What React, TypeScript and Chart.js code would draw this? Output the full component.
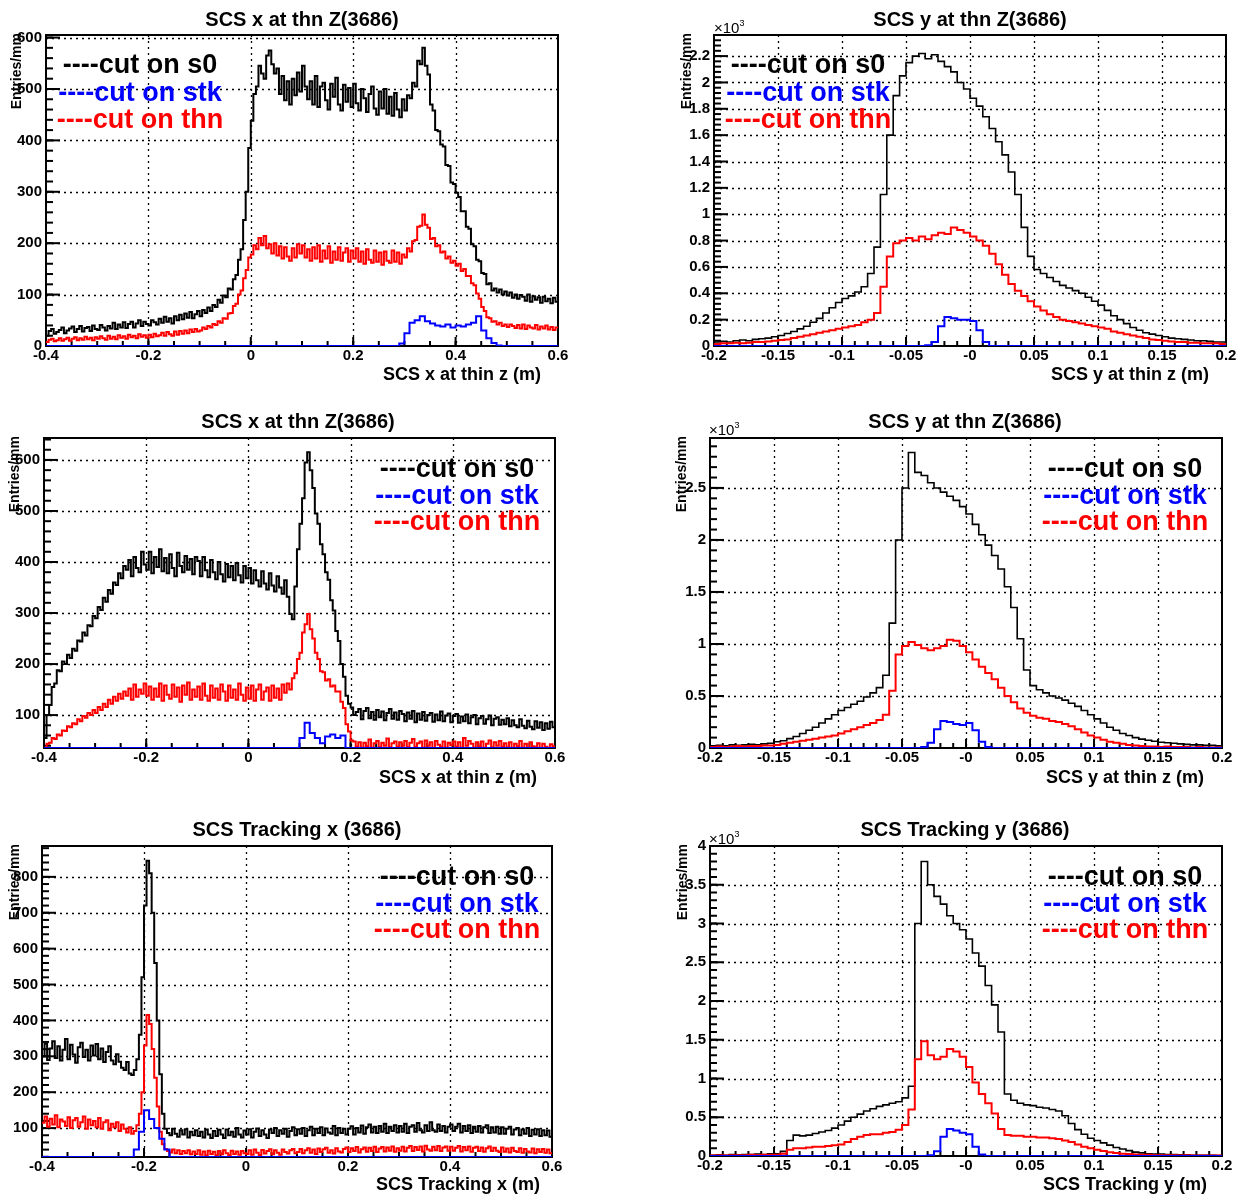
import React, { useEffect, useRef } from "react";
import { Chart, registerables } from "chart.js";

Chart.register(...registerables);

// ---------------- tick labels ----------------
const X_TICKS_WIDE = [-0.4, -0.2, 0, 0.2, 0.4, 0.6];
const X_LABELS_WIDE = ["-0.4", "-0.2", "0", "0.2", "0.4", "0.6"];
const X_TICKS_NARROW = [-0.2, -0.15, -0.1, -0.05, 0, 0.05, 0.1, 0.15, 0.2];
const X_LABELS_NARROW = ["-0.2", "-0.15", "-0.1", "-0.05", "-0", "0.05", "0.1", "0.15", "0.2"];

const Y_TICKS_P1 = [0, 100, 200, 300, 400, 500, 600];
const Y_LABELS_P1 = ["0", "100", "200", "300", "400", "500", "600"];
const Y_TICKS_P2 = [0, 0.2, 0.4, 0.6, 0.8, 1, 1.2, 1.4, 1.6, 1.8, 2, 2.2];
const Y_LABELS_P2 = ["0", "0.2", "0.4", "0.6", "0.8", "1", "1.2", "1.4", "1.6", "1.8", "2", "2.2"];
const Y_TICKS_P3 = [100, 200, 300, 400, 500, 600];
const Y_LABELS_P3 = ["100", "200", "300", "400", "500", "600"];
const Y_TICKS_P4 = [0, 0.5, 1, 1.5, 2, 2.5];
const Y_LABELS_P4 = ["0", "0.5", "1", "1.5", "2", "2.5"];
const Y_TICKS_P5 = [100, 200, 300, 400, 500, 600, 700, 800];
const Y_LABELS_P5 = ["100", "200", "300", "400", "500", "600", "700", "800"];
const Y_TICKS_P6 = [0, 0.5, 1, 1.5, 2, 2.5, 3, 3.5, 4];
const Y_LABELS_P6 = ["0", "0.5", "1", "1.5", "2", "2.5", "3", "3.5", "4"];

const LEGEND_LABELS = ["----cut on s0", "----cut on stk", "----cut on thn"];

// ---------------- data (bin contents) ----------------
// Panel 1: SCS x at thn — s0/thn: 200 bins (-0.4..0.6), stk: 100 bins
const P1_S0 = [
  20, 29, 33, 24, 27, 31, 36, 25, 30, 34, 38, 27, 33, 39, 28, 35, 37, 29, 40, 33,
  31, 41, 36, 30, 39, 34, 45, 33, 42, 36, 46, 35, 43, 47, 36, 44, 50, 39, 47, 43,
  40, 50, 46, 42, 53, 45, 57, 47, 54, 44, 58, 50, 61, 52, 63, 55, 66, 54, 62, 68,
  58, 70, 64, 75, 68, 80, 76, 90, 84, 98, 95, 112, 110, 130, 138, 168, 188, 245, 300, 385,
  438, 490, 505, 545, 530, 520, 565, 575, 548, 530, 540, 490, 525, 478, 515, 470, 520, 488, 532, 495,
  545, 505, 480, 515, 470, 525, 465, 505, 512, 478, 460, 510, 485, 522, 470, 458, 508, 475, 502, 465,
  510, 472, 458, 500, 482, 455, 490, 505, 462, 450, 495, 462, 500, 452, 485, 448, 492, 460, 445, 480,
  458, 488, 482, 512, 505, 555, 548, 580, 545, 528, 470, 458, 420, 418, 392, 388, 352, 350, 318, 315,
  298, 290, 262, 262, 232, 228, 198, 194, 168, 165, 142, 140, 120, 122, 108, 112, 104, 110, 100, 106,
  98, 104, 94, 100, 92, 99, 96, 88, 100, 86, 97, 90, 95, 84, 96, 87, 92, 83, 94, 86,
];
const P1_STK = [
  0, 0, 0, 0, 0, 0, 0, 0, 0, 0,
  0, 0, 0, 0, 0, 0, 0, 0, 0, 0,
  0, 0, 0, 0, 0, 0, 0, 0, 0, 0,
  0, 0, 0, 0, 0, 0, 0, 0, 0, 0,
  0, 0, 0, 0, 0, 0, 0, 0, 0, 0,
  0, 0, 0, 0, 0, 0, 0, 0, 0, 0,
  0, 0, 0, 0, 0, 0, 0, 0, 0, 5,
  25, 45, 50, 58, 48, 44, 40, 38, 42, 36,
  40, 38, 42, 45, 58, 30, 15, 6, 1, 0,
  0, 0, 0, 0, 0, 0, 0, 0, 0, 0,
];
const P1_THN = [
  8, 12, 14, 9, 11, 15, 10, 13, 16, 10, 14, 17, 11, 15, 12, 18, 13, 16, 11, 17,
  14, 19, 15, 12, 20, 14, 18, 13, 21, 16, 19, 14, 22, 17, 20, 15, 23, 18, 21, 16,
  22, 17, 24, 19, 21, 26, 20, 27, 23, 20, 28, 22, 29, 24, 30, 25, 32, 27, 33, 28,
  30, 36, 33, 39, 36, 43, 41, 48, 45, 54, 53, 63, 64, 78, 82, 100, 108, 132, 148, 172,
  178, 196, 188, 210, 196, 214, 190, 198, 180, 200, 176, 194, 170, 192, 174, 166, 190, 172, 198, 180,
  196, 172, 188, 166, 192, 170, 196, 164, 186, 170, 194, 162, 184, 168, 192, 166, 182, 190, 164, 186,
  170, 190, 164, 184, 160, 188, 168, 162, 186, 164, 182, 158, 184, 166, 162, 186, 164, 182, 160, 178,
  172, 190, 184, 204, 206, 232, 234, 256, 236, 230, 208, 210, 194, 196, 182, 184, 170, 174, 162, 166,
  156, 160, 146, 150, 136, 136, 122, 118, 102, 92, 76, 68, 56, 54, 47, 48, 42, 45, 39, 42,
  37, 42, 39, 35, 41, 34, 42, 33, 40, 36, 34, 41, 32, 38, 34, 40, 32, 37, 31, 36,
];

// Panel 2: SCS y at thn (x10^3), 80 bins from -0.2 to 0.2
const P2_S0 = [
  0.03, 0.035, 0.03, 0.04, 0.045, 0.04, 0.05, 0.055, 0.06, 0.07,
  0.08, 0.095, 0.11, 0.13, 0.15, 0.18, 0.21, 0.25, 0.29, 0.33,
  0.36, 0.38, 0.41, 0.45, 0.55, 0.75, 1.15, 1.6, 1.9, 2.05,
  2.15, 2.2, 2.22, 2.18, 2.21, 2.16, 2.12, 2.08, 2.0, 1.95,
  1.88, 1.82, 1.74, 1.65, 1.55, 1.45, 1.32, 1.15, 0.9, 0.68,
  0.58, 0.55, 0.52, 0.49, 0.46, 0.44, 0.42, 0.4, 0.37, 0.34,
  0.31, 0.27, 0.23, 0.2, 0.17, 0.14, 0.12, 0.1, 0.09, 0.08,
  0.07, 0.06, 0.055, 0.05, 0.045, 0.04, 0.04, 0.035, 0.03, 0.03,
];
const P2_STK = [
  0, 0, 0, 0, 0, 0, 0, 0, 0, 0,
  0, 0, 0, 0, 0, 0, 0, 0, 0, 0,
  0, 0, 0, 0, 0, 0, 0, 0, 0, 0,
  0, 0, 0, 0.005, 0.03, 0.15, 0.22, 0.21, 0.2, 0.2,
  0.19, 0.12, 0.03, 0, 0, 0, 0, 0, 0, 0,
  0, 0, 0, 0, 0, 0, 0, 0, 0, 0,
  0, 0, 0, 0, 0, 0, 0, 0, 0, 0,
  0, 0, 0, 0, 0, 0, 0, 0, 0, 0,
];
const P2_THN = [
  0.015, 0.02, 0.02, 0.025, 0.02, 0.025, 0.03, 0.03, 0.035, 0.04,
  0.045, 0.05, 0.06, 0.07, 0.08, 0.09, 0.1, 0.11, 0.12, 0.13,
  0.14, 0.15, 0.16, 0.18, 0.2, 0.25, 0.45, 0.68, 0.78, 0.8,
  0.82, 0.8, 0.83, 0.81, 0.84, 0.86, 0.85, 0.9, 0.88, 0.86,
  0.83, 0.8, 0.76, 0.7, 0.62, 0.54, 0.47, 0.42, 0.38, 0.34,
  0.3, 0.27, 0.24, 0.22, 0.2, 0.19, 0.18, 0.17, 0.16, 0.15,
  0.14, 0.13, 0.11, 0.1, 0.09, 0.08, 0.07, 0.06, 0.05, 0.045,
  0.04, 0.035, 0.03, 0.03, 0.025, 0.025, 0.02, 0.02, 0.02, 0.015,
];

// Panel 3: SCS x at thn — s0/thn: 200 bins (-0.4..0.6), stk: 100 bins
const P3_S0 = [
  55, 100, 120, 155, 162, 188, 186, 205, 200, 218, 212, 230, 226, 246, 244, 262, 256, 276, 274, 294,
  290, 312, 306, 330, 322, 345, 338, 360, 355, 378, 368, 392, 385, 404, 372, 410, 388, 380, 420, 395,
  385, 420, 378, 410, 390, 425, 382, 408, 378, 415, 388, 372, 418, 392, 380, 412, 385, 406, 376, 410,
  402, 372, 410, 384, 370, 404, 380, 366, 400, 376, 362, 396, 370, 392, 364, 398, 374, 360, 392, 368,
  388, 358, 384, 364, 352, 382, 358, 346, 378, 354, 342, 372, 350, 338, 364, 332, 298, 288, 352, 425,
  475, 525, 595, 615, 580, 545, 495, 475, 435, 415, 380, 365, 325, 305, 265, 245, 200, 175, 138, 122,
  115, 100, 106, 112, 92, 108, 114, 94, 106, 91, 110, 96, 107, 90, 104, 112, 93, 105, 91, 108,
  102, 88, 105, 93, 108, 86, 103, 91, 106, 89, 100, 104, 87, 101, 90, 107, 88, 99, 103, 86,
  98, 102, 85, 97, 88, 101, 84, 96, 100, 82, 94, 98, 83, 92, 99, 80, 93, 96, 81, 91,
  82, 94, 78, 90, 80, 76, 92, 79, 74, 89, 77, 72, 88, 75, 86, 71, 84, 73, 87, 76,
];
const P3_STK = [
  0, 0, 0, 0, 0, 0, 0, 0, 0, 0,
  0, 0, 0, 0, 0, 0, 0, 0, 0, 0,
  0, 0, 0, 0, 0, 0, 0, 0, 0, 0,
  0, 0, 0, 0, 0, 0, 0, 0, 0, 0,
  0, 0, 0, 0, 0, 0, 0, 0, 0, 0,
  55, 85, 65, 55, 45, 58, 62, 55, 60, 20,
  0, 0, 0, 0, 0, 0, 0, 0, 0, 0,
  0, 0, 0, 0, 0, 0, 0, 0, 0, 0,
  0, 0, 0, 0, 0, 0, 0, 0, 0, 0,
  0, 0, 0, 0, 0, 0, 0, 0, 0, 0,
];
const P3_THN = [
  36, 44, 46, 55, 53, 62, 60, 70, 69, 78, 76, 84, 82, 92, 88, 98, 95, 104, 100, 110,
  104, 116, 110, 122, 116, 130, 122, 136, 128, 142, 132, 146, 138, 152, 130, 160, 136, 150, 142, 162,
  138, 156, 130, 152, 136, 162, 128, 158, 140, 132, 160, 136, 154, 126, 158, 140, 164, 130, 150, 136,
  156, 130, 162, 138, 128, 158, 134, 152, 130, 160, 146, 128, 158, 134, 150, 130, 162, 140, 128, 154,
  132, 158, 128, 150, 160, 130, 146, 154, 128, 158, 134, 152, 130, 160, 144, 162, 150, 172, 182, 210,
  222, 262, 278, 298, 268, 250, 222, 210, 186, 184, 168, 170, 156, 158, 146, 146, 126, 114, 82, 68,
  50, 48, 38, 47, 36, 46, 39, 52, 36, 45, 49, 37, 46, 40, 54, 37, 45, 48, 38, 47,
  40, 49, 37, 46, 53, 38, 45, 48, 36, 50, 40, 47, 35, 49, 42, 38, 48, 36, 46, 41,
  48, 38, 47, 36, 55, 40, 49, 44, 36, 47, 39, 48, 35, 44, 50, 37, 47, 40, 49, 38,
  45, 37, 47, 35, 44, 39, 49, 36, 44, 34, 47, 39, 37, 45, 35, 44, 38, 34, 43, 39,
];

// Panel 4: SCS y at thn (x10^3), 80 bins from -0.2 to 0.2
const P4_S0 = [
  0.02, 0.025, 0.02, 0.03, 0.025, 0.03, 0.035, 0.03, 0.04, 0.045,
  0.06, 0.07, 0.09, 0.11, 0.14, 0.17, 0.2, 0.24, 0.28, 0.32,
  0.36, 0.39, 0.42, 0.45, 0.49, 0.53, 0.58, 0.7, 1.2, 2.0,
  2.5, 2.84, 2.65, 2.62, 2.55, 2.5, 2.46, 2.42, 2.38, 2.32,
  2.25, 2.15, 2.05, 1.95, 1.85, 1.72, 1.55, 1.35, 1.05, 0.75,
  0.6, 0.56, 0.53, 0.5, 0.48, 0.46, 0.43, 0.4, 0.36, 0.32,
  0.28, 0.24, 0.2, 0.17, 0.14, 0.12, 0.1, 0.085, 0.075, 0.065,
  0.055, 0.05, 0.045, 0.04, 0.035, 0.03, 0.03, 0.025, 0.025, 0.02,
];
const P4_STK = [
  0, 0, 0, 0, 0, 0, 0, 0, 0, 0,
  0, 0, 0, 0, 0, 0, 0, 0, 0, 0,
  0, 0, 0, 0, 0, 0, 0, 0, 0, 0,
  0, 0, 0, 0.01, 0.05, 0.18, 0.26, 0.25, 0.23, 0.22,
  0.24, 0.17, 0.06, 0.01, 0, 0, 0, 0, 0, 0,
  0, 0, 0, 0, 0, 0, 0, 0, 0, 0,
  0, 0, 0, 0, 0, 0, 0, 0, 0, 0,
  0, 0, 0, 0, 0, 0, 0, 0, 0, 0,
];
const P4_THN = [
  0.01, 0.015, 0.01, 0.015, 0.02, 0.015, 0.02, 0.02, 0.025, 0.025,
  0.03, 0.04, 0.05, 0.06, 0.07, 0.08, 0.09, 0.1, 0.11, 0.12,
  0.14, 0.16, 0.18, 0.2, 0.22, 0.24, 0.27, 0.32, 0.55, 0.9,
  0.98, 1.02, 0.99, 0.96, 0.94, 0.96, 0.98, 1.04, 1.03, 0.98,
  0.92, 0.85, 0.78, 0.72, 0.66, 0.58, 0.5, 0.44, 0.38, 0.34,
  0.31, 0.29, 0.28, 0.26, 0.25, 0.23, 0.21, 0.18, 0.15, 0.12,
  0.1, 0.08, 0.06, 0.05, 0.04, 0.03, 0.025, 0.02, 0.015, 0.015,
  0.01, 0.015, 0.01, 0.01, 0.01, 0.005, 0.01, 0.005, 0.005, 0.005,
];

// Panel 5: SCS Tracking x — s0/thn: 200 bins (-0.4..0.6), stk: 100 bins
const P5_S0 = [
  300, 335, 290, 322, 342, 295, 328, 288, 318, 348, 292, 332, 305, 282, 325, 338, 298, 318, 288, 330,
  302, 334, 292, 322, 284, 312, 328, 288, 278, 306, 285, 268, 262, 284, 252, 248, 262, 292, 360, 520,
  720, 845, 810, 700, 560, 400, 250, 140, 98, 86, 80, 98, 84, 76, 94, 82, 97, 74, 90, 80,
  94, 78, 90, 74, 96, 82, 72, 92, 78, 95, 82, 72, 96, 80, 90, 76, 100, 82, 74, 93,
  82, 97, 74, 90, 99, 78, 94, 82, 72, 96, 86, 100, 78, 94, 84, 98, 76, 92, 102, 80,
  97, 84, 100, 78, 94, 104, 80, 98, 86, 102, 80, 99, 88, 84, 106, 80, 100, 86, 98, 82,
  98, 105, 82, 100, 88, 107, 84, 102, 110, 88, 104, 86, 106, 90, 112, 86, 104, 92, 108, 88,
  106, 90, 112, 86, 104, 108, 90, 114, 94, 88, 108, 92, 116, 94, 90, 110, 92, 106, 88, 104,
  110, 92, 104, 112, 88, 106, 92, 108, 86, 104, 90, 106, 88, 102, 108, 86, 102, 88, 104, 84,
  102, 84, 98, 104, 82, 96, 100, 80, 96, 84, 100, 78, 95, 82, 97, 78, 94, 80, 93, 76,
];
const P5_STK = [
  0, 0, 0, 0, 0, 0, 0, 0, 0, 0,
  0, 0, 0, 0, 0, 0, 0, 0, 40, 90,
  150, 125, 100, 70, 40, 0, 0, 0, 0, 0,
  0, 0, 0, 0, 0, 0, 0, 0, 0, 0,
  0, 0, 0, 0, 0, 0, 0, 0, 0, 0,
  0, 0, 0, 0, 0, 0, 0, 0, 0, 0,
  0, 0, 0, 0, 0, 0, 0, 0, 0, 0,
  0, 0, 0, 0, 0, 0, 0, 0, 0, 0,
  0, 0, 0, 0, 0, 0, 0, 0, 0, 0,
  0, 0, 0, 0, 0, 0, 0, 0, 0, 0,
];
const P5_THN = [
  115, 132, 104, 126, 110, 136, 102, 124, 118, 106, 130, 100, 122, 128, 104, 116, 132, 98, 124, 108,
  120, 102, 128, 98, 116, 122, 94, 112, 102, 116, 92, 110, 98, 88, 102, 84, 92, 108, 140, 200,
  330, 415, 390, 320, 240, 160, 90, 55, 42, 36, 32, 40, 30, 38, 28, 36, 30, 38, 27, 35,
  28, 38, 26, 35, 24, 37, 28, 34, 24, 36, 27, 38, 30, 25, 37, 28, 35, 26, 36, 30,
  28, 38, 26, 40, 31, 25, 39, 29, 36, 41, 27, 38, 31, 26, 40, 33, 29, 38, 42, 30,
  33, 42, 30, 38, 44, 31, 40, 28, 43, 33, 41, 45, 31, 38, 29, 44, 35, 32, 42, 46,
  33, 44, 36, 47, 32, 41, 46, 34, 45, 36, 48, 33, 43, 47, 35, 46, 37, 49, 34, 44,
  37, 48, 35, 45, 50, 36, 47, 39, 49, 35, 51, 40, 37, 48, 38, 50, 36, 46, 49, 37,
  48, 37, 45, 50, 35, 47, 38, 49, 34, 45, 48, 36, 46, 34, 44, 49, 36, 45, 37, 33,
  46, 34, 43, 32, 45, 36, 33, 44, 31, 42, 35, 32, 43, 30, 41, 33, 42, 31, 40, 30,
];

// Panel 6: SCS Tracking y (x10^3), 80 bins from -0.2 to 0.2
const P6_S0 = [
  0.01, 0.015, 0.01, 0.02, 0.015, 0.02, 0.02, 0.025, 0.02, 0.03,
  0.03, 0.06, 0.2, 0.27, 0.26, 0.27, 0.29, 0.31, 0.33, 0.36,
  0.4, 0.45, 0.5, 0.54, 0.58, 0.61, 0.64, 0.66, 0.68, 0.7,
  0.75, 0.9, 3.0, 3.8, 3.5, 3.35, 3.25, 3.1, 3.0, 2.92,
  2.8, 2.62, 2.45, 2.2, 1.95, 1.6, 0.8, 0.72, 0.68, 0.66,
  0.65, 0.63, 0.62, 0.6, 0.58, 0.52, 0.42, 0.34, 0.28, 0.23,
  0.2, 0.17, 0.14, 0.11, 0.09, 0.07, 0.05, 0.04, 0.03, 0.025,
  0.025, 0.02, 0.02, 0.015, 0.015, 0.01, 0.01, 0.01, 0.01, 0.005,
];
const P6_STK = [
  0, 0, 0, 0, 0, 0, 0, 0, 0, 0,
  0, 0, 0, 0, 0, 0, 0, 0, 0, 0,
  0, 0, 0, 0, 0, 0, 0, 0, 0, 0,
  0, 0, 0, 0, 0.01, 0.06, 0.25, 0.35, 0.33, 0.3,
  0.28, 0.12, 0.02, 0, 0, 0, 0, 0, 0, 0,
  0, 0, 0, 0, 0, 0, 0, 0, 0, 0,
  0, 0, 0, 0, 0, 0, 0, 0, 0, 0,
  0, 0, 0, 0, 0, 0, 0, 0, 0, 0,
];
const P6_THN = [
  0.005, 0.01, 0.005, 0.01, 0.01, 0.01, 0.015, 0.01, 0.015, 0.015,
  0.015, 0.03, 0.08, 0.1, 0.1, 0.11, 0.12, 0.12, 0.13, 0.14,
  0.15, 0.18, 0.22, 0.25, 0.27, 0.28, 0.28, 0.3, 0.31, 0.34,
  0.4, 0.6, 1.25, 1.48, 1.3, 1.25, 1.28, 1.38, 1.35, 1.28,
  1.15, 0.95, 0.8, 0.68, 0.55, 0.35, 0.27, 0.26, 0.26, 0.25,
  0.25, 0.24, 0.24, 0.23, 0.22, 0.2, 0.18, 0.15, 0.12, 0.1,
  0.08, 0.065, 0.05, 0.04, 0.03, 0.025, 0.02, 0.015, 0.015, 0.01,
  0.01, 0.01, 0.01, 0.005, 0.01, 0.005, 0.005, 0.005, 0.005, 0.005,
];

// ---------------- layout table ----------------
const FONT = "'Liberation Sans', Arial, Helvetica, sans-serif";
const Y_AXIS_W = 50;
const X_AXIS_H = 30;
const PAD_TOP = 12;
const PAD_RIGHT = 20;

type PanelCfg = {
  frame: [number, number, number, number];
  xMin: number; xMax: number; binW: number; stkBinW: number;
  yMin: number; yMax: number;
  xTicks: number[]; xLabels: string[]; xMinor: number;
  yTicks: number[]; yLabels: string[]; yMinor: number;
  s0: number[]; stk: number[]; thn: number[];
  widths: number[];
  title: string; titleX: number; titleY: number;
  xTitle: string; xTitleRight: number; xTitleY: number;
  yTitleX: number; yTitleTop: number;
  legendX: number; legendY: number[];
  exp: [number, number] | null;
};

const PANELS: PanelCfg[] = [
  {
    frame: [46, 34, 512, 312], xMin: -0.4, xMax: 0.6, binW: 0.005, stkBinW: 0.01, yMin: 0, yMax: 605,
    xTicks: X_TICKS_WIDE, xLabels: X_LABELS_WIDE, xMinor: 0.05,
    yTicks: Y_TICKS_P1, yLabels: Y_LABELS_P1, yMinor: 20,
    s0: P1_S0, stk: P1_STK, thn: P1_THN, widths: [2, 2, 2],
    title: "SCS x at thn Z(3686)", titleX: 302, titleY: 19,
    xTitle: "SCS x at thin z (m)", xTitleRight: 541, xTitleY: 374,
    yTitleX: 16, yTitleTop: 33, legendX: 140, legendY: [64, 92, 119], exp: null,
  },
  {
    frame: [714, 34, 512, 312], xMin: -0.2, xMax: 0.2, binW: 0.005, stkBinW: 0.005, yMin: 0, yMax: 2.36,
    xTicks: X_TICKS_NARROW, xLabels: X_LABELS_NARROW, xMinor: 0.01,
    yTicks: Y_TICKS_P2, yLabels: Y_LABELS_P2, yMinor: 0.04,
    s0: P2_S0, stk: P2_STK, thn: P2_THN, widths: [1.6, 2, 2],
    title: "SCS y at thn Z(3686)", titleX: 970, titleY: 19,
    xTitle: "SCS y at thin z (m)", xTitleRight: 1209, xTitleY: 374,
    yTitleX: 686, yTitleTop: 33, legendX: 808, legendY: [64, 92, 119], exp: [714, 27],
  },
  {
    frame: [44, 437, 511, 311], xMin: -0.4, xMax: 0.6, binW: 0.005, stkBinW: 0.01, yMin: 35.5, yMax: 643,
    xTicks: X_TICKS_WIDE, xLabels: X_LABELS_WIDE, xMinor: 0.05,
    yTicks: Y_TICKS_P3, yLabels: Y_LABELS_P3, yMinor: 20,
    s0: P3_S0, stk: P3_STK, thn: P3_THN, widths: [2, 2, 2],
    title: "SCS x at thn Z(3686)", titleX: 298, titleY: 421,
    xTitle: "SCS x at thin z (m)", xTitleRight: 537, xTitleY: 777,
    yTitleX: 14, yTitleTop: 436, legendX: 457, legendY: [468, 495, 521], exp: null,
  },
  {
    frame: [710, 437, 512, 311], xMin: -0.2, xMax: 0.2, binW: 0.005, stkBinW: 0.005, yMin: 0, yMax: 2.98,
    xTicks: X_TICKS_NARROW, xLabels: X_LABELS_NARROW, xMinor: 0.01,
    yTicks: Y_TICKS_P4, yLabels: Y_LABELS_P4, yMinor: 0.1,
    s0: P4_S0, stk: P4_STK, thn: P4_THN, widths: [1.6, 2, 2],
    title: "SCS y at thn Z(3686)", titleX: 965, titleY: 421,
    xTitle: "SCS y at thin z (m)", xTitleRight: 1204, xTitleY: 777,
    yTitleX: 681, yTitleTop: 436, legendX: 1125, legendY: [468, 495, 521], exp: [709, 429],
  },
  {
    frame: [42, 845, 510, 312], xMin: -0.4, xMax: 0.6, binW: 0.005, stkBinW: 0.01, yMin: 19.4, yMax: 886,
    xTicks: X_TICKS_WIDE, xLabels: X_LABELS_WIDE, xMinor: 0.05,
    yTicks: Y_TICKS_P5, yLabels: Y_LABELS_P5, yMinor: 20,
    s0: P5_S0, stk: P5_STK, thn: P5_THN, widths: [2, 2, 2],
    title: "SCS Tracking x (3686)", titleX: 297, titleY: 829,
    xTitle: "SCS Tracking x (m)", xTitleRight: 540, xTitleY: 1184,
    yTitleX: 14, yTitleTop: 844, legendX: 457, legendY: [876, 903, 929], exp: null,
  },
  {
    frame: [710, 845, 512, 311], xMin: -0.2, xMax: 0.2, binW: 0.005, stkBinW: 0.005, yMin: 0, yMax: 4,
    xTicks: X_TICKS_NARROW, xLabels: X_LABELS_NARROW, xMinor: 0.01,
    yTicks: Y_TICKS_P6, yLabels: Y_LABELS_P6, yMinor: 0.1,
    s0: P6_S0, stk: P6_STK, thn: P6_THN, widths: [1.6, 2, 2],
    title: "SCS Tracking y (3686)", titleX: 965, titleY: 829,
    xTitle: "SCS Tracking y (m)", xTitleRight: 1207, xTitleY: 1184,
    yTitleX: 682, yTitleTop: 844, legendX: 1125, legendY: [876, 903, 929], exp: [709, 838],
  },
];

const SERIES_COLORS = ["#000000", "#0000ff", "#ff0000"];

function minorRange(min: number, max: number, step: number): number[] {
  const out: number[] = [];
  const start = Math.ceil(min / step - 1e-9);
  for (let i = start; i * step <= max + 1e-9; i++) out.push(i * step);
  return out;
}

// points at bin low edges (+ closing point at the upper edge of the last bin)
function histPoints(values: number[], xMin: number, binW: number) {
  const pts = values.map((v, i) => ({ x: xMin + i * binW, y: v }));
  pts.push({ x: xMin + values.length * binW, y: values[values.length - 1] });
  return pts;
}

function makeFramePlugin(cfg: PanelCfg) {
  return {
    id: "rootFrame",
    afterDatasetsUpdate(chart: any) {
      // ROOT draws bins below the axis minimum on the frame bottom
      const a = chart.chartArea;
      chart.data.datasets.forEach((_: any, i: number) => {
        const meta = chart.getDatasetMeta(i);
        for (const p of meta.data as any[]) {
          if (p.y > a.bottom) p.y = a.bottom;
        }
      });
    },
    beforeDatasetsDraw(chart: any) {
      const { ctx, chartArea: a } = chart;
      const xs = chart.scales.x;
      const ys = chart.scales.y;
      ctx.save();
      ctx.strokeStyle = "#000";
      ctx.lineWidth = 1.3;
      ctx.setLineDash([2, 4]);
      for (const v of cfg.xTicks) {
        const px = Math.round(xs.getPixelForValue(v)) + 0.5;
        if (px <= a.left + 2 || px >= a.right - 2) continue;
        ctx.beginPath();
        ctx.moveTo(px, a.top);
        ctx.lineTo(px, a.bottom);
        ctx.stroke();
      }
      for (const v of cfg.yTicks) {
        const py = Math.round(ys.getPixelForValue(v)) + 0.5;
        if (py <= a.top + 2 || py >= a.bottom - 2) continue;
        ctx.beginPath();
        ctx.moveTo(a.left, py);
        ctx.lineTo(a.right, py);
        ctx.stroke();
      }
      ctx.setLineDash([]);
      ctx.lineWidth = 2;
      ctx.strokeRect(a.left, a.top, a.right - a.left, a.bottom - a.top);
      const drawY = (vals: number[], len: number) => {
        for (const v of vals) {
          if (v < ys.min - 1e-9 || v > ys.max + 1e-9) continue;
          const py = ys.getPixelForValue(v);
          ctx.beginPath();
          ctx.moveTo(a.left, py);
          ctx.lineTo(a.left + len, py);
          ctx.stroke();
        }
      };
      const drawX = (vals: number[], len: number) => {
        for (const v of vals) {
          if (v < xs.min - 1e-9 || v > xs.max + 1e-9) continue;
          const px = xs.getPixelForValue(v);
          ctx.beginPath();
          ctx.moveTo(px, a.bottom);
          ctx.lineTo(px, a.bottom - len);
          ctx.stroke();
        }
      };
      drawY(minorRange(cfg.yMin, cfg.yMax, cfg.yMinor), 7);
      drawY(cfg.yTicks, 14);
      drawX(minorRange(cfg.xMin, cfg.xMax, cfg.xMinor), 5);
      drawX(cfg.xTicks, 9);
      ctx.restore();
    },
  };
}

function Panel({ cfg }: { cfg: PanelCfg }) {
  const ref = useRef<HTMLCanvasElement>(null);
  const [fl, ft, fw, fh] = cfg.frame;
  const W = fw + Y_AXIS_W + PAD_RIGHT;
  const H = fh + PAD_TOP + X_AXIS_H;

  useEffect(() => {
    const tickFont = { family: FONT, size: 15, weight: "bold" as const };
    const series = [cfg.s0, cfg.stk, cfg.thn];
    const binWs = [cfg.binW, cfg.stkBinW, cfg.binW];
    const orders = [2, 0, 1];
    const chart = new Chart(ref.current!, {
      type: "line",
      data: {
        datasets: series.map((vals, i) => ({
          data: histPoints(vals, cfg.xMin, binWs[i]),
          borderColor: SERIES_COLORS[i],
          backgroundColor: SERIES_COLORS[i],
          borderWidth: cfg.widths[i],
          pointRadius: 0,
          stepped: "before" as const,
          fill: false,
          tension: 0,
          order: orders[i],
        })),
      },
      options: {
        responsive: false,
        animation: false,
        devicePixelRatio: 1,
        events: [],
        layout: { padding: { left: 0, top: PAD_TOP, right: PAD_RIGHT, bottom: 0 } },
        plugins: { legend: { display: false }, tooltip: { enabled: false }, title: { display: false } },
        scales: {
          x: {
            type: "linear",
            min: cfg.xMin,
            max: cfg.xMax,
            grid: { display: false, drawTicks: false },
            border: { display: false },
            afterBuildTicks: (s: any) => {
              s.ticks = cfg.xTicks.map((v) => ({ value: v }));
            },
            afterFit: (s: any) => {
              s.height = X_AXIS_H;
            },
            ticks: {
              autoSkip: false,
              maxRotation: 0,
              minRotation: 0,
              padding: 1,
              color: "#000",
              font: tickFont,
              callback: (_v: any, i: number) => cfg.xLabels[i],
            },
          },
          y: {
            type: "linear",
            min: cfg.yMin,
            max: cfg.yMax,
            grid: { display: false, drawTicks: false },
            border: { display: false },
            afterBuildTicks: (s: any) => {
              s.ticks = cfg.yTicks.map((v) => ({ value: v }));
            },
            afterFit: (s: any) => {
              s.width = Y_AXIS_W;
            },
            ticks: {
              autoSkip: false,
              padding: 4,
              color: "#000",
              font: tickFont,
              callback: (_v: any, i: number) => cfg.yLabels[i],
            },
          },
        },
      },
      plugins: [makeFramePlugin(cfg)],
    } as any);
    return () => chart.destroy();
  }, []);

  return (
    <canvas
      ref={ref}
      width={W}
      height={H}
      style={{ position: "absolute", left: fl - Y_AXIS_W, top: ft - PAD_TOP, width: W, height: H }}
    />
  );
}

function Txt(props: { x: number; y: number; size: number; color?: string; align?: string; weight?: string; children: any }) {
  const { x, y, size, color = "#000", align = "center", weight = "bold", children } = props;
  const tx = align === "center" ? "-50%" : align === "right" ? "-100%" : "0";
  return (
    <div
      style={{
        position: "absolute",
        left: x,
        top: y,
        transform: `translate(${tx}, -50%)`,
        font: `${weight} ${size}px ${FONT}`,
        color,
        whiteSpace: "pre",
        lineHeight: 1,
      }}
    >
      {children}
    </div>
  );
}

function PanelTexts({ cfg }: { cfg: PanelCfg }) {
  return (
    <>
      <Txt x={cfg.titleX} y={cfg.titleY} size={20}>{cfg.title}</Txt>
      <Txt x={cfg.xTitleRight} y={cfg.xTitleY} size={18} align="right">{cfg.xTitle}</Txt>
      <div
        style={{
          position: "absolute",
          left: cfg.yTitleX - 7,
          top: cfg.yTitleTop,
          writingMode: "vertical-rl",
          transform: "rotate(180deg)",
          font: `bold 14px ${FONT}`,
          lineHeight: "14px",
          whiteSpace: "nowrap",
        }}
      >
        Entries/mm
      </div>
      {cfg.exp && (
        <div
          style={{
            position: "absolute",
            left: cfg.exp[0],
            top: cfg.exp[1],
            transform: "translateY(-50%)",
            font: `15px ${FONT}`,
            lineHeight: 1,
            whiteSpace: "nowrap",
          }}
        >
          ×10<span style={{ fontSize: 9, verticalAlign: "7px" }}>3</span>
        </div>
      )}
      {LEGEND_LABELS.map((lab, i) => (
        <Txt key={lab} x={cfg.legendX} y={cfg.legendY[i]} size={27} color={SERIES_COLORS[i]}>
          {lab}
        </Txt>
      ))}
    </>
  );
}

export default function App() {
  return (
    <div
      style={{
        position: "absolute",
        left: 0,
        top: 0,
        width: 1236,
        height: 1194,
        background: "#fff",
        overflow: "hidden",
        fontFamily: FONT,
      }}
    >
      {PANELS.map((cfg, i) => (
        <Panel key={"c" + i} cfg={cfg} />
      ))}
      {PANELS.map((cfg, i) => (
        <PanelTexts key={"t" + i} cfg={cfg} />
      ))}
    </div>
  );
}
